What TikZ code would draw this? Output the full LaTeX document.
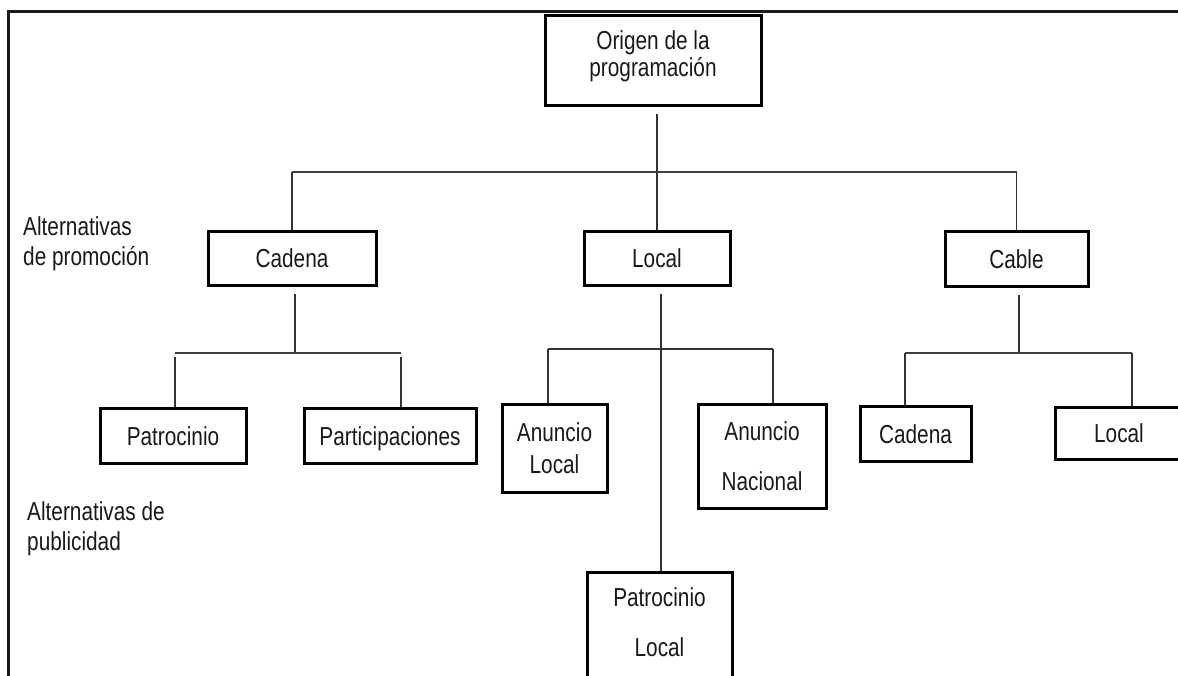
\documentclass[tikz,border=0pt]{standalone}
\usepackage{fontspec}
\setmainfont{Liberation Sans}[FakeStretch=0.8]
\begin{document}
\begin{tikzpicture}[x=1pt,y=-1pt,
  box/.style={draw=black, line width=3pt, inner sep=0pt, align=center,
    text=black!90, font=\fontsize{26}{30}\selectfont},
  oneline/.style={box, text height=19pt, text depth=0pt},
  conn/.style={draw=black!80, line width=1.4pt},
  bus/.style={draw=black!75, line width=2.2pt},
  frameline/.style={draw=black!90, line width=3pt},
  side/.style={anchor=north west, inner sep=0pt, align=left, text=black!90,
    font=\fontsize{26}{30}\selectfont}]
\useasboundingbox (0,0) rectangle (1178,675);
\clip (0,0) rectangle (1178,675);

% page frame (top and left edges)
\draw[frameline] (8,676) -- (8,11) -- (1180,11);

% root
\node[box, minimum width=216pt, minimum height=90pt,
  font=\fontsize{26}{27}\selectfont] (orig) at (653,60)
  {Origen de la\\programación\rule[-12pt]{0pt}{12pt}};

% promotion alternatives
\node[oneline, minimum width=168pt, minimum height=54pt] (cadena) at (292,258) {Cadena};
\node[oneline, minimum width=146pt, minimum height=54pt] (local) at (657,258) {Local};
\node[oneline, minimum width=143pt, minimum height=55pt] (cable) at (1016.5,258.5) {Cable};

% advertising alternatives
\node[oneline, minimum width=146pt, minimum height=55pt] (patro) at (173,435.5) {Patrocinio};
\node[oneline, minimum width=172pt, minimum height=55pt] (partic) at (390,435.5) {Participaciones};
\node[box, minimum width=105pt, minimum height=88pt,
  font=\fontsize{26}{32}\selectfont] (anlocal) at (554.5,448) {Anuncio\\Local};
\node[box, minimum width=128pt, minimum height=104pt,
  font=\fontsize{26}{50}\selectfont] (annac) at (762,456) {Anuncio\\Nacional};
\node[box, minimum width=145pt, anchor=north,
  font=\fontsize{26}{50}\selectfont] (patloc) at (659.5,571)
  {\rule{0pt}{34pt}Patrocinio\\Local\rule[-80pt]{0pt}{80pt}};
\node[oneline, minimum width=111pt, minimum height=55pt] (cadena2) at (915.5,433.5) {Cadena};
\node[oneline, minimum width=128pt, minimum height=52pt] (local2) at (1119,433) {Local};

% side captions
\node[side] (altprom) at (23,216) {Alternativas\\de promoción};
\node[side] (altpub) at (27,501) {Alternativas de\\publicidad};

% bus points
\coordinate (topbus) at (657,172);
\coordinate (cbus) at (295,353);
\coordinate (cbusL) at (175,353);
\coordinate (cbusR) at (401,353);
\coordinate (lbus) at (661,349);
\coordinate (lbusL) at (548,349);
\coordinate (lbusR) at (773,349);
\coordinate (kbus) at (1019,353);
\coordinate (kbusL) at (905,353);
\coordinate (kbusR) at (1132,353);

% root to promotion alternatives
\draw[conn, shorten <=7pt] (orig.south -| topbus) -- (topbus |- local.north);
\draw[bus] (cadena.north |- topbus) -- (cable.north |- topbus);
\draw[conn] (cadena.north |- topbus) -- (cadena.north);
\draw[conn] (cable.north |- topbus) -- (cable.north);

% Cadena branch
\draw[conn, shorten <=7pt] (cadena.south -| cbus) -- (cbus);
\draw[bus] (cbusL) -- (cbusR);
\draw[conn, shorten <=4pt] (cbusL) -- (cbusL |- patro.north);
\draw[conn, shorten <=4pt] (cbusR) -- (cbusR |- partic.north);

% Local branch
\draw[conn, shorten <=7pt] (local.south -| lbus) -- (lbus |- patloc.north);
\draw[conn] (lbusL) -- (lbusR);
\draw[conn] (lbusL) -- (lbusL |- anlocal.north);
\draw[conn] (lbusR) -- (lbusR |- annac.north);

% Cable branch
\draw[conn, shorten <=7pt] (cable.south -| kbus) -- (kbus);
\draw[bus] (kbusL) -- (kbusR);
\draw[conn] (kbusL) -- (kbusL |- cadena2.north);
\draw[conn] (kbusR) -- (kbusR |- local2.north);
\end{tikzpicture}
\end{document}
